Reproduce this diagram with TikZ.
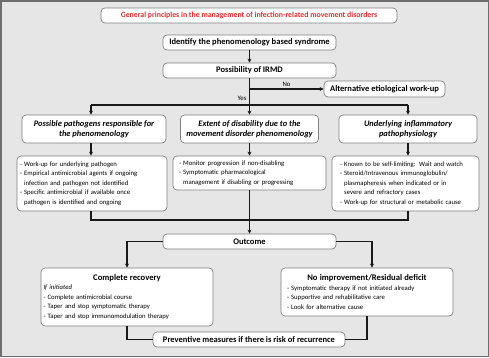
\documentclass[tikz,border=0pt]{standalone}
\usepackage{fontspec}
\setmainfont{Carlito}
\usetikzlibrary{arrows.meta}
\definecolor{bg}{HTML}{E6E6E6}
\definecolor{bord}{HTML}{7F7F7F}
\definecolor{frame}{HTML}{6E6E6E}
\definecolor{titlered}{HTML}{E0302F}
\newcommand{\ld}[1]{\mbox{\makebox[0.62em][l]{-}#1}}
\newcommand{\lc}[1]{\mbox{\hspace*{0.62em}#1}}
\tikzset{
  box/.style={draw=bord, line width=0.7pt, fill=white, rounded corners=4pt,
    inner sep=0pt, align=center, font=\bfseries\fontsize{8.5}{10}\selectfont},
  head/.style={box, minimum height=28pt, font=\bfseries\itshape\fontsize{8.4}{10}\selectfont},
  list/.style={box, align=left, inner ysep=0pt, font=\fontsize{6.7}{9.5}\selectfont},
  conn/.style={line width=1.1pt, draw=black!90},
  arr/.style={conn, -{Stealth[length=4pt,width=4pt]}},
  lbl/.style={font=\fontsize{6.8}{8}\selectfont, inner sep=1pt},
}
\begin{document}
\begin{tikzpicture}[x=1pt,y=-1pt]
\useasboundingbox (0,0) rectangle (489,357);
\draw[fill=bg, draw=frame, line width=1.5pt] (0.75,0.75) rectangle (488.25,356.25);

\node[box, minimum width=296pt, minimum height=15pt, text=titlered, font=\bfseries\fontsize{7.8}{9}\selectfont] (title) at (249,15.5)
  {General principles in the management of infection-related movement disorders};

\node[box, minimum width=173pt, minimum height=15pt] (id) at (249.5,42.5) {Identify the phenomenology based syndrome};
\node[box, minimum width=173pt, minimum height=15pt] (poss) at (249.5,70.5) {Possibility of IRMD};
\node[box, minimum width=121pt, minimum height=16pt] (alt) at (384.5,89) {Alternative etiological work-up};

\node[head, minimum width=144pt] (h1) at (94,129) {Possible pathogens responsible for\\the phenomenology};
\node[head, minimum width=138pt] (h2) at (249.5,129) {Extent of disability due to the\\movement disorder phenomenology};
\node[head, minimum width=138pt] (h3) at (408,129) {Underlying inflammatory\\pathophysiology};

\node[list, text width=144pt, inner xsep=3pt, minimum height=55pt] (b1) at (92,183.5)
  {\ld{Work-up for underlying pathogen}\\
   \ld{Empirical antimicrobial agents if ongoing}\\
   \lc{infection and pathogen not identified}\\
   \ld{Specific antimicrobial if available once}\\
   \lc{pathogen is identified and ongoing}};
\node[list, text width=141pt, inner xsep=6pt, minimum height=34pt] (b2) at (249.5,173)
  {\ld{Monitor progression if non-disabling}\\
   \ld{Symptomatic pharmacological}\\
   \lc{management if disabling or progressing}};
\node[list, text width=131pt, inner xsep=8pt, minimum height=55pt] (b3) at (405.5,183.5)
  {\ld{Known to be self-limiting: Wait and watch}\\
   \ld{Steroid/Intravenous immunoglobulin/}\\
   \lc{plasmapheresis when indicated or in}\\
   \lc{severe and refractory cases}\\
   \ld{Work-up for structural or metabolic cause}};

\node[box, minimum width=173pt, minimum height=15pt] (out) at (249.5,241.5) {Outcome};

\node[list, text width=167pt, inner xsep=2.5pt, minimum height=58pt] (cr) at (127,297)
  {\makebox[\linewidth][c]{\bfseries\fontsize{8.6}{9.5}\selectfont Complete recovery}\\
   \textit{If initiated}\\
   \ld{Complete antimicrobial course}\\
   \ld{Taper and stop symptomatic therapy}\\
   \ld{Taper and stop immunomodulation therapy}};
\node[list, text width=160pt, inner xsep=6pt, minimum height=48pt] (ni) at (367,292)
  {\makebox[\linewidth][c]{\bfseries\fontsize{8.6}{9.5}\selectfont No improvement/Residual deficit}\\
   \ld{Symptomatic therapy if not initiated already}\\
   \ld{Supportive and rehabilitative care}\\
   \ld{Look for alternative cause}};

\node[box, minimum width=192pt, minimum height=15pt] (prev) at (249,339.5) {Preventive measures if there is risk of recurrence};

% connectors
\coordinate (jL) at (91,105);
\coordinate (jR) at (408,105);
\coordinate (kL) at (91,220);
\coordinate (kR) at (408,220);
\coordinate (cNi) at (372,242);

\draw[arr] (id) -- (poss);
\draw[arr] (poss) -- (h2);
\draw[arr] (poss.south |- alt.west) -- (alt.west) node[lbl, midway, above=0.5pt] {No};
\node[lbl] (yes) at (242,98) {Yes};
\draw[conn] (jL) -- (jR);
\draw[arr] (jL) -- (jL |- h1.north);
\draw[arr] (jR) -- (jR |- h3.north);

\draw[arr] (jL |- h1.south) -- (jL |- b1.north);
\draw[arr] (h2) -- (b2);
\draw[arr] (jR |- h3.south) -- (jR |- b3.north);

\draw[conn] (jL |- b1.south) -- (kL) -- (kR) -- (kR |- b3.south);
\draw[arr] (b2) -- (out);

\draw[arr] (out.west) -| (cr.north);
\draw[arr] (out.east) -| (cNi |- ni.north);
\draw[conn] (cr.south) |- (prev.west);
\draw[conn] (ni.south) |- (prev.east);
\end{tikzpicture}
\end{document}
